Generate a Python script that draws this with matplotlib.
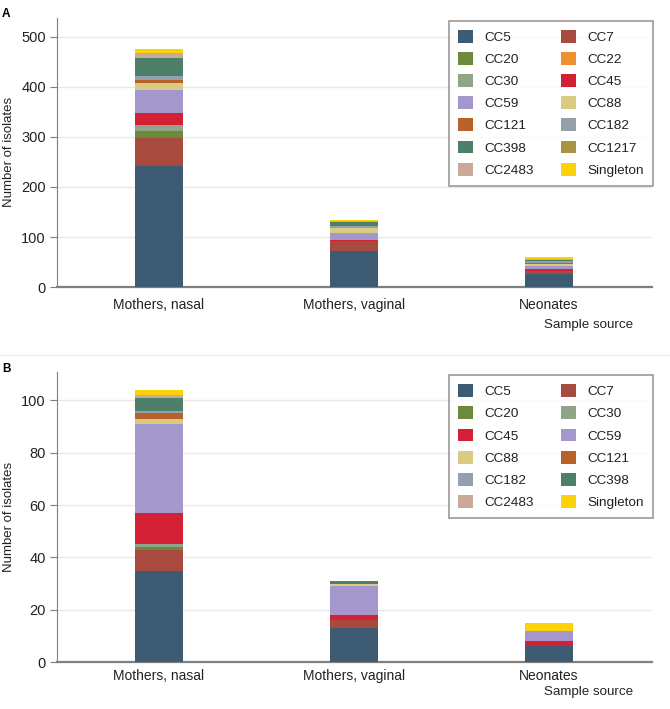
"""
Stacked bars : clonal complexes by sample source (panels A and B).
"""

import numpy as np
import matplotlib

matplotlib.use("Agg")
import matplotlib.pyplot as plt
from matplotlib.patches import Patch

plt.rcParams["font.family"] = ["Liberation Sans", "DejaVu Sans"]

sources = ["Mothers, nasal", "Mothers, vaginal", "Neonates"]

# Panel A - counts per clonal complex (nasal, vaginal, neonates)
a_cc5 = [241, 73, 27]
a_cc7 = [57, 20, 6]
a_cc20 = [13, 0, 0]
a_cc22 = [1, 0, 0]
a_cc30 = [11, 0, 0]
a_cc45 = [25, 2, 4]
a_cc59 = [45, 13, 5]
a_cc88 = [15, 11, 5]
a_cc121 = [5, 0, 2]
a_cc182 = [9, 3, 3]
a_cc398 = [35, 8, 3]
a_cc1217 = [1, 0, 0]
a_cc2483 = [9, 2, 2]
a_single = [9, 3, 3]

# Panel B
b_cc5 = [35, 13, 6]
b_cc7 = [8, 3, 0]
b_cc20 = [1, 0, 0]
b_cc30 = [1, 0, 0]
b_cc45 = [12, 2, 2]
b_cc59 = [34, 11, 4]
b_cc88 = [2, 1, 0]
b_cc121 = [2, 0, 0]
b_cc182 = [1, 0, 0]
b_cc398 = [5, 1, 0]
b_cc2483 = [1, 0, 0]
b_single = [2, 0, 3]

COLORS = {
    "CC5": "#3e5b74",
    "CC7": "#a84a3d",
    "CC20": "#6b8a3a",
    "CC22": "#ef8f2d",
    "CC30": "#8fa58a",
    "CC45": "#d32035",
    "CC59": "#a397cc",
    "CC88": "#d8cc85",
    "CC121": "#b86228",
    "CC182": "#94a0ab",
    "CC398": "#4e7f68",
    "CC1217": "#a89442",
    "CC2483": "#c9a99a",
    "Singleton": "#fcd209",
}

series_a = [
    ("CC5", a_cc5), ("CC7", a_cc7), ("CC20", a_cc20), ("CC22", a_cc22),
    ("CC30", a_cc30), ("CC45", a_cc45), ("CC59", a_cc59), ("CC88", a_cc88),
    ("CC121", a_cc121), ("CC182", a_cc182), ("CC398", a_cc398),
    ("CC1217", a_cc1217), ("CC2483", a_cc2483), ("Singleton", a_single),
]
series_b = [
    ("CC5", b_cc5), ("CC7", b_cc7), ("CC20", b_cc20), ("CC30", b_cc30),
    ("CC45", b_cc45), ("CC59", b_cc59), ("CC88", b_cc88), ("CC121", b_cc121),
    ("CC182", b_cc182), ("CC398", b_cc398), ("CC2483", b_cc2483),
    ("Singleton", b_single),
]

TXT = "#222222"
SPINE = "#7f7f7f"


def draw_panel(ax, series, ymax, yticks, label_y, leg_top, xpad):
    x = np.arange(1, len(sources) + 1)
    bottom = np.zeros(len(sources))
    for name, vals in series:
        vals = np.array(vals, dtype=float)
        ax.bar(x, vals, width=0.246, bottom=bottom, color=COLORS[name],
               linewidth=0, zorder=3)
        bottom += vals

    ax.set_xlim(0.477, 3.528)
    ax.set_ylim(0, ymax)
    ax.set_xticks(x)
    ax.set_xticklabels(sources, fontsize=10, color=TXT)
    ax.set_yticks(yticks)
    ax.tick_params(axis="x", length=0, pad=xpad)
    ax.tick_params(axis="y", length=5, color=SPINE, labelsize=10.5,
                   labelcolor=TXT, pad=3)
    ax.grid(axis="y", color="#e8e8e8", linewidth=1, zorder=0)
    for s in ["top", "right"]:
        ax.spines[s].set_visible(False)
    ax.spines["left"].set_color(SPINE)
    ax.spines["bottom"].set_color(SPINE)
    ax.spines["bottom"].set_linewidth(1.6)
    ax.set_ylabel("Number of isolates", fontsize=9.5, color=TXT)
    ax.yaxis.set_label_coords(-0.07, 0.5)
    ax.text(0.968, label_y, "Sample source", transform=ax.transAxes,
            ha="right", va="center", fontsize=9.6, color=TXT)

    # legend filled row by row, 2 columns
    handles = [Patch(facecolor=COLORS[n], edgecolor="none") for n, _ in series]
    labels = [n for n, _ in series]
    order = list(range(0, len(labels), 2)) + list(range(1, len(labels), 2))
    leg = ax.legend(
        [handles[i] for i in order],
        [labels[i] for i in order],
        ncol=2,
        loc="upper right",
        bbox_to_anchor=(1.002, leg_top),
        borderaxespad=0,
        fontsize=9.7,
        frameon=True,
        fancybox=False,
        edgecolor="#808080",
        handlelength=1.1,
        handleheight=1.1,
        handletextpad=0.85,
        columnspacing=2.0,
        labelspacing=0.6,
        borderpad=0.68,
    )
    leg.get_frame().set_linewidth(1.2)
    for t in leg.get_texts():
        t.set_color(TXT)


fig = plt.figure(figsize=(6.7, 7.09), dpi=100)
ax_a = fig.add_axes([0.085, 0.595, 0.888, 0.380])
ax_b = fig.add_axes([0.085, 0.066, 0.888, 0.409])

draw_panel(ax_a, series_a, 538, [0, 100, 200, 300, 400, 500], -0.141, 0.989, 8)
draw_panel(ax_b, series_b, 110.7, [0, 20, 40, 60, 80, 100], -0.104, 0.99, 5)

fig.text(0.003, 0.980, "A", fontsize=8.5, fontweight="bold", va="center")
fig.text(0.003, 0.4795, "B", fontsize=8.5, fontweight="bold", va="center")

# faint separator between the two panels
fig.add_artist(plt.Line2D([0, 1], [0.5, 0.5], color="#ececec", linewidth=1))

fig.savefig("out.png", dpi=100)
